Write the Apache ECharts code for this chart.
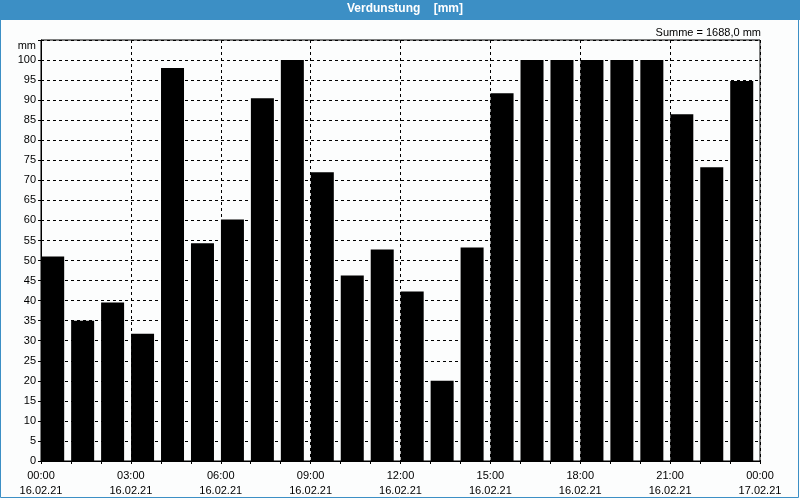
<!DOCTYPE html>
<html>
<head>
<meta charset="utf-8">
<script src="https://cdn.jsdelivr.net/npm/echarts@6/dist/echarts.min.js"></script>
<style>
html,body{margin:0;padding:0;background:#fcfdfd;}
#c{width:800px;height:500px;}
</style>
</head>
<body>
<div id="c"></div>
<script>
// Data
const titleText = 'Verdunstung    [mm]';
const sumLabel = 'Summe = 1688,0 mm';
const unitLabel = 'mm';
const hours = [0,1,2,3,4,5,6,7,8,9,10,11,12,13,14,15,16,17,18,19,20,21,22,23];
const values = [51,35,39.5,31.75,98,54.3,60.25,90.5,100,72,46.25,52.75,42.25,20,53.25,91.75,100,100,100,100,100,86.5,73.25,94.75];
const timeLabels = ['00:00','03:00','06:00','09:00','12:00','15:00','18:00','21:00','00:00'];
const dateLabels = ['16.02.21','16.02.21','16.02.21','16.02.21','16.02.21','16.02.21','16.02.21','16.02.21','17.02.21'];

const FONT = "'Liberation Sans', Arial, sans-serif";
const chart = echarts.init(document.getElementById('c'), null, {renderer:'canvas'});
const blue = '#3c8fc5';

chart.setOption({
  animation: false,
  backgroundColor: '#fcfdfd',
  graphic: [
    {type:'rect', z:-1, shape:{x:0,y:0,width:800,height:20}, style:{fill:blue}},
    {type:'rect', z:-1, shape:{x:0.5,y:0.5,width:798,height:497}, style:{fill:null, stroke:blue, lineWidth:1}}
  ],
  title: [
    {text: titleText, left: 347, top: 3, padding: 0,
     textStyle:{color:'#ffffff', fontFamily: FONT, fontSize: 12, fontWeight:'bold'}},
    {text: sumLabel, right: 39, top: 27, padding: 0,
     textStyle:{color:'#000000', fontFamily: FONT, fontSize: 11, fontWeight:'normal'}}
  ],
  grid: {left: 41, right: 40, top: 40, bottom: 39, show: true, borderColor:'#000', borderWidth:1, backgroundColor:'transparent'},
  xAxis: {
    type: 'value', min: 0, max: 24, interval: 3,
    axisLine: {show: true, onZero:false, lineStyle:{color:'#000', width:1}},
    axisTick: {show: true, length: 3, lineStyle:{color:'#000'}},
    minorTick: {show: true, splitNumber: 3, length: 3, lineStyle:{color:'#000'}},
    splitLine: {show: true, lineStyle:{color:'#000', type:[3,3], width:1}},
    axisLabel: {
      margin: 7, color:'#000', fontFamily: FONT, fontSize: 11, lineHeight: 15,
      formatter: function(v){ const i = Math.round(v/3); return timeLabels[i] + '\n' + dateLabels[i]; }
    }
  },
  yAxis: {
    type: 'value', min: 0, max: 105, interval: 5,
    name: unitLabel, nameLocation:'end', nameGap: -6,
    nameTextStyle: {color:'#000', fontFamily: FONT, fontSize: 11, align:'right', verticalAlign:'middle', padding:[0,5,0,0]},
    axisLine: {show: true, lineStyle:{color:'#000', width:1}},
    axisTick: {show: true, length: 3, lineStyle:{color:'#000'}},
    splitLine: {show: true, lineStyle:{color:'#000', type:[3,3], width:1}},
    axisLabel: {
      margin: 5, color:'#000', fontFamily: FONT, fontSize: 11,
      formatter: function(v){ return v > 100 ? '' : String(v); }
    }
  },
  series: [{
    type: 'bar',
    barWidth: 23,
    itemStyle: {color:'#000000'},
    data: hours.map((h,i) => [h + 0.39, values[i]])
  }]
});
</script>
</body>
</html>
